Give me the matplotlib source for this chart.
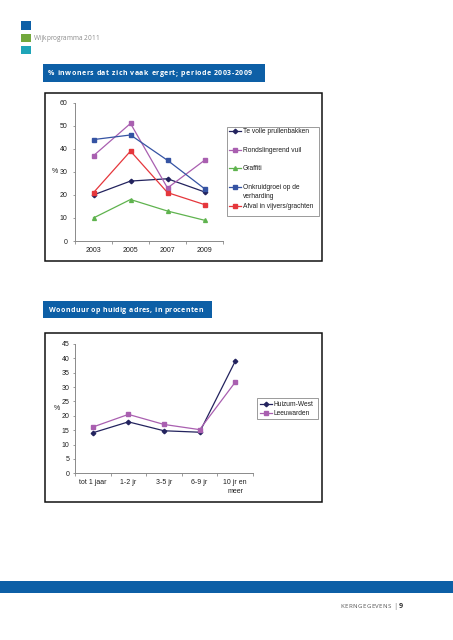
import matplotlib
matplotlib.use("Agg")
import matplotlib.pyplot as plt
from matplotlib.patches import Rectangle
from matplotlib.lines import Line2D
from matplotlib.textpath import text_to_path
from matplotlib.font_manager import FontProperties

# ---------------- data ----------------
years = ["2003", "2005", "2007", "2009"]
te_volle = [20, 26, 27, 21.3]
rondslingerend = [37, 51, 23, 35]
graffiti = [10, 18, 13, 9]
onkruidgroei = [44, 46, 35, 22.7]
afval = [21, 39, 21, 15.8]
labels1 = ["Te volle prullenbakken", "Rondslingerend vuil", "Graffiti",
           "Onkruidgroei op de\nverharding", "Afval in vijvers/grachten"]

woonduur_cats = ["tot 1 jaar", "1-2 jr", "3-5 jr", "6-9 jr", "10 jr en\nmeer"]
huizum_west = [14.1, 17.9, 14.8, 14.3, 39.0]
leeuwarden = [16.1, 20.5, 17.0, 15.2, 31.7]
labels2 = ["Huizum-West", "Leeuwarden"]

# ---------------- styles ----------------
W, H = 453, 640
BLUE = "#0d5fa6"
GREEN = "#72a83c"
TEAL = "#1ea5b8"
NAVY = "#23235e"
PURPLE = "#a95fb0"
LGREEN = "#5fb34e"
MBLUE = "#3553a3"
RED = "#e5373c"
AXC = "#8a8a8a"
TXT = "#1e1e1e"
CF = "Liberation Sans"
HF = "Open Sans"

fig = plt.figure(figsize=(W / 100, H / 100), dpi=100)


def fx(px):
    return px / W


def fy(py):
    return 1 - py / H


def rect(x0, y0, x1, y1, **kw):
    fig.add_artist(Rectangle((fx(x0), fy(y1)), fx(x1) - fx(x0), fy(y0) - fy(y1),
                             transform=fig.transFigure, **kw))


def text_width(s, size, weight, family):
    prop = FontProperties(family=family, weight=weight, size=size * 100 / 72)
    w, h, d = text_to_path.get_text_width_height_descent(s, prop, ismath=False)
    return w


def spaced(x0, x1, ybase, s, size, color, weight="normal", family=HF):
    """Letter-spaced text fitted between x0 and x1 (pixels), on baseline ybase."""
    sentinel = "l"
    ws = text_width(sentinel, size, weight, family)
    offsets = [0.0]
    for i in range(1, len(s) + 1):
        offsets.append(text_width(s[:i] + sentinel, size, weight, family) - ws)
    natural = offsets[-1]
    n = len(s)
    track = (x1 - x0 - natural) / max(n - 1, 1)
    for i, ch in enumerate(s):
        if ch == " ":
            continue
        fig.text(fx(x0 + offsets[i] + i * track), fy(ybase), ch, fontsize=size, color=color,
                 weight=weight, family=family, va="baseline", ha="left")


# ---------------- header ----------------
rect(21, 21.5, 31, 29.5, facecolor=BLUE, edgecolor="none")
rect(21, 33.8, 31, 41.5, facecolor=GREEN, edgecolor="none")
rect(21, 45.8, 31, 53.5, facecolor=TEAL, edgecolor="none")
spaced(33.5, 99, 40.0, "Wijkprogramma 2011", 4.7, "#8c8c8c")

# title boxes
rect(43, 64.3, 265, 81.7, facecolor=BLUE, edgecolor="none")
spaced(48, 252, 75.3, "% inwoners dat zich vaak ergert; periode 2003-2009", 5.0, "white", weight="bold")
rect(43, 301, 212, 318, facecolor=BLUE, edgecolor="none")
spaced(49, 203, 311.8, "Woonduur op huidig adres, in procenten", 5.0, "white", weight="bold")

# footer
rect(0, 581, W, 593, facecolor=BLUE, edgecolor="none")
spaced(340.7, 390.7, 608, "KERNGEGEVENS", 4.4, "#555555")
fig.text(fx(395.7), fy(606), "|", fontsize=5.5, color="#777777", ha="center", va="center", family=HF)
fig.text(fx(400.7), fy(606), "9", fontsize=5.2, color="#333333", ha="center", va="center",
         family=HF, weight="bold")

# chart frames
rect(45, 92.7, 321.5, 260.7, facecolor="none", edgecolor="#111111", lw=1.1)
rect(45, 333, 321.5, 501.7, facecolor="none", edgecolor="#111111", lw=1.1)


def style_axes(ax, ncat, ymax, ystep, ypad):
    for s in ("top", "right"):
        ax.spines[s].set_visible(False)
    for s in ("left", "bottom"):
        ax.spines[s].set_color(AXC)
        ax.spines[s].set_linewidth(0.7)
    ax.set_xlim(-0.5, ncat - 0.5)
    ax.set_ylim(0, ymax)
    ax.set_yticks(range(0, ymax + 1, ystep))
    ax.set_xticks(range(ncat))
    ax.set_xticks([i - 0.5 for i in range(ncat + 1)], minor=True)
    ax.tick_params(axis="y", direction="out", length=1.8, width=0.6, color=AXC,
                   labelsize=5, labelcolor=TXT, pad=ypad)
    ax.tick_params(axis="x", which="major", length=0, labelsize=5, labelcolor=TXT, pad=4.2)
    ax.tick_params(axis="x", which="minor", direction="out", length=1.8, width=0.6, color=AXC)
    for lab in ax.get_xticklabels() + ax.get_yticklabels():
        lab.set_family(CF)
    ax.patch.set_visible(False)


# ---------------- chart 1 ----------------
ax1 = fig.add_axes([fx(75), fy(241), (223 - 75) / W, (241 - 102.7) / H])
x1 = list(range(len(years)))
series1 = [
    (te_volle, NAVY, "D", 2.3),
    (rondslingerend, PURPLE, "s", 2.3),
    (graffiti, LGREEN, "^", 2.8),
    (onkruidgroei, MBLUE, "s", 2.6),
    (afval, RED, "s", 2.6),
]
for vals, c, m, ms in series1:
    ax1.plot(x1, vals, color=c, marker=m, ms=ms, lw=0.9, mec=c, mfc=c)
ax1.set_xticks(x1)
ax1.set_xticklabels(years)
style_axes(ax1, len(years), 60, 10, 3.6)
fig.text(fx(58.5), fy(171.7), "%", fontsize=5, color=TXT, family=CF, ha="right", va="center")

# legend 1 (drawn by hand to mimic Excel layout)
rect(226.7, 126.7, 319.3, 216.3, facecolor="white", edgecolor="#8a8a8a", lw=0.6)
leg1_y = [131, 149.5, 168, 187, 205.5]
for (vals, c, m, ms), lab, yy in zip(series1, labels1, leg1_y):
    fig.add_artist(Line2D([fx(229), fx(241)], [fy(yy), fy(yy)], color=c, lw=0.9,
                          transform=fig.transFigure))
    fig.add_artist(Line2D([fx(235)], [fy(yy)], color=c, marker=m, ms=ms, mec=c, mfc=c,
                          transform=fig.transFigure))
    for k, line in enumerate(lab.split("\n")):
        fig.text(fx(243), fy(yy + 8.3 * k + 0.8), line, fontsize=4.75, color=TXT, family=CF,
                 ha="left", va="center")

# ---------------- chart 2 ----------------
ax2 = fig.add_axes([fx(75), fy(473.3), (253 - 75) / W, (473.3 - 344) / H])
x2 = list(range(len(woonduur_cats)))
series2 = [
    (huizum_west, NAVY, "D", 2.3),
    (leeuwarden, PURPLE, "s", 2.3),
]
for vals, c, m, ms in series2:
    ax2.plot(x2, vals, color=c, marker=m, ms=ms, lw=0.9, mec=c, mfc=c)
ax2.set_xticks(x2)
ax2.set_xticklabels(woonduur_cats, linespacing=1.35)
style_axes(ax2, len(woonduur_cats), 45, 5, 2.4)
fig.text(fx(59.5), fy(408), "%", fontsize=5, color=TXT, family=CF, ha="right", va="center")

rect(257, 398, 318.3, 418.5, facecolor="white", edgecolor="#8a8a8a", lw=0.6)
leg2_y = [404, 412.8]
for (vals, c, m, ms), lab, yy in zip(series2, labels2, leg2_y):
    fig.add_artist(Line2D([fx(260), fx(271.5)], [fy(yy), fy(yy)], color=c, lw=0.9,
                          transform=fig.transFigure))
    fig.add_artist(Line2D([fx(265.8)], [fy(yy)], color=c, marker=m, ms=ms, mec=c, mfc=c,
                          transform=fig.transFigure))
    fig.text(fx(273.5), fy(yy + 0.8), lab, fontsize=4.75, color=TXT, family=CF,
             ha="left", va="center")

fig.savefig("out.png", dpi=100)
